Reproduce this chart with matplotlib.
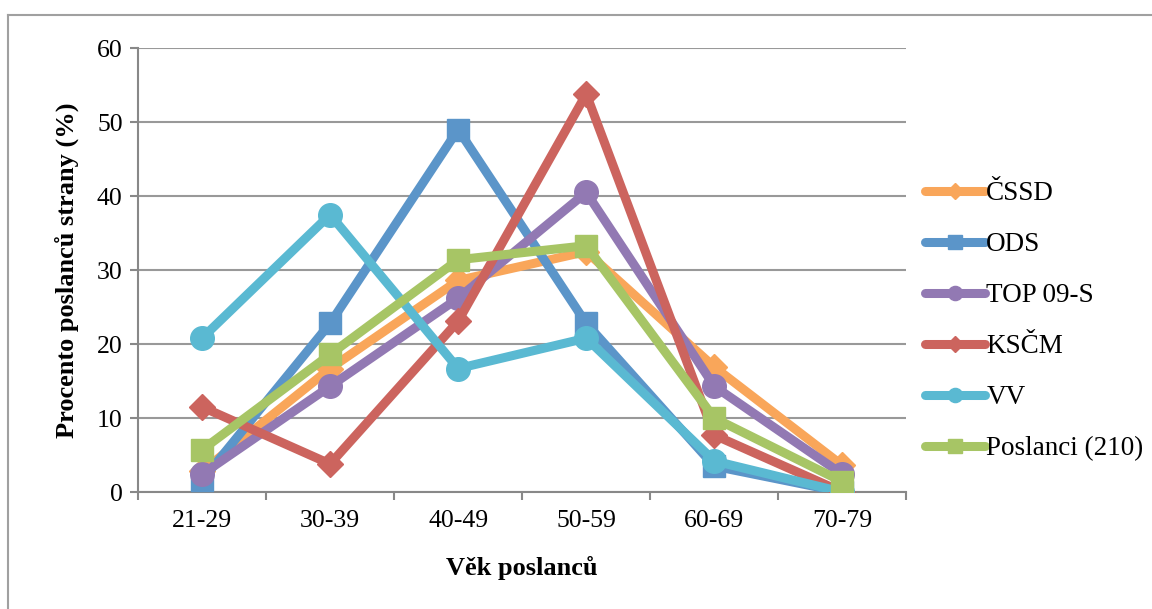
import matplotlib.pyplot as plt
import numpy as np
from matplotlib.lines import Line2D

# Věkové kategorie
kategorie = ['21-29', '30-39', '40-49', '50-59', '60-69', '70-79']

# Procento poslanců strany v každé kategorii
cssd = [2.8, 16.7, 28.6, 32.5, 16.9, 3.6]
ods = [1.6, 22.8, 49.0, 22.8, 3.5, 0.0]
top09 = [2.4, 14.3, 26.2, 40.5, 14.3, 2.4]
kscm = [11.5, 3.8, 23.1, 53.8, 7.7, 0.0]
vv = [20.8, 37.5, 16.7, 20.8, 4.2, 0.0]
poslanci = [5.7, 18.6, 31.4, 33.3, 10.0, 1.4]

nazvy = ['ČSSD', 'ODS', 'TOP 09-S', 'KSČM', 'VV', 'Poslanci (210)']
barvy = ['#F9A65A', '#5B95C9', '#9279B3', '#CC645E', '#5AB9D2', '#A7C565']
znacky = ['D', 's', 'o', 'D', 'o', 's']
velikosti = [13, 16, 17, 13, 17, 16]

plt.rcParams['font.family'] = ['Liberation Serif', 'DejaVu Serif']

fig = plt.figure(figsize=(11.52, 6.09), dpi=100)
ax = fig.add_axes([0.1198, 0.192, 0.667, 0.729])

x = np.arange(len(kategorie))
for data, nazev, barva, z, v in zip([cssd, ods, top09, kscm, vv, poslanci], nazvy, barvy, znacky, velikosti):
    ax.plot(x, data, color=barva, lw=6.5, marker=z, markersize=v,
            markeredgecolor=barva, label=nazev, solid_joinstyle='miter', zorder=3)

ax.set_xlim(-0.5, len(kategorie) - 0.5)
ax.set_ylim(0, 60)
ax.set_yticks(range(0, 61, 10))
ax.set_xticks(x)
ax.set_xticklabels(kategorie)
ax.set_xticks(np.arange(-0.5, len(kategorie)), minor=True)
ax.tick_params(axis='x', which='major', length=0, pad=13, labelsize=18.5)
ax.tick_params(axis='x', which='minor', length=6, color='#888888', width=1.5)
ax.tick_params(axis='y', length=6, color='#888888', width=1.5, labelsize=18.5, pad=5)
ax.grid(axis='y', color='#999999', lw=1.5)
ax.set_axisbelow(True)
for s in ['top', 'right']:
    ax.spines[s].set_visible(False)
for s in ['left', 'bottom']:
    ax.spines[s].set_color('#888888')
    ax.spines[s].set_linewidth(1.5)

ax.set_xlabel('Věk poslanců', fontsize=19, fontweight='bold', labelpad=17)
ax.set_ylabel('Procento poslanců strany (%)', fontsize=19, fontweight='bold', labelpad=13)

leg = ax.legend(loc='center left', bbox_to_anchor=(1.0, 0.385), frameon=False,
                fontsize=19.5, handlelength=2.2, handletextpad=0.05, labelspacing=0.96,
                markerscale=0.6, borderaxespad=0.3)
for h in leg.get_lines():
    h.set_solid_capstyle('round')

# rámeček grafu (horní a levá hrana)
fig.add_artist(Line2D([0.007, 1.0], [0.975, 0.975], transform=fig.transFigure,
                      color='#A0A0A0', lw=1.5))
fig.add_artist(Line2D([0.007, 0.007], [0.0, 0.975], transform=fig.transFigure,
                      color='#A0A0A0', lw=1.5))

plt.savefig('out.png', dpi=100)
